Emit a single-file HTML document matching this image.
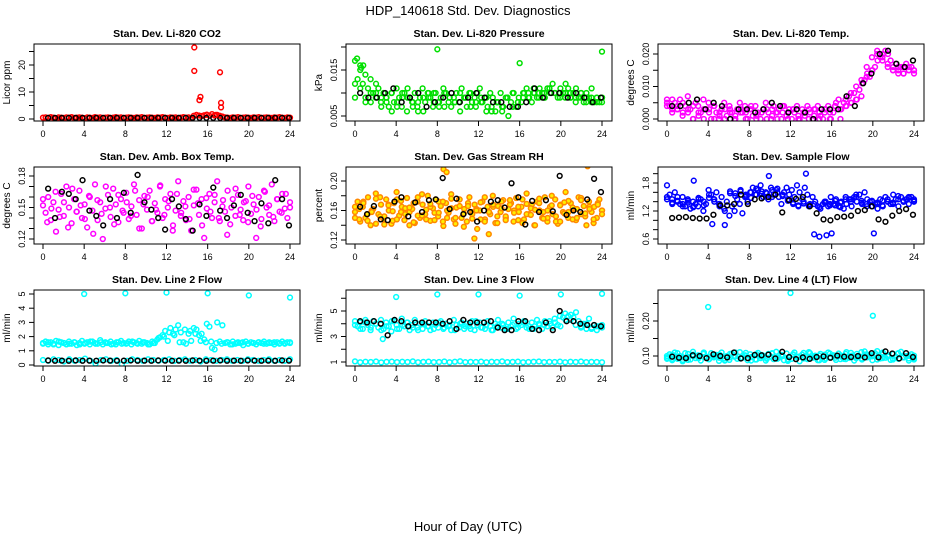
<!DOCTYPE html>
<html><head><meta charset="utf-8">
<style>
html,body{margin:0;padding:0;background:#fff;}
svg{display:block;font-family:"Liberation Sans",Arial,sans-serif;}
</style></head>
<body>
<svg id="chart" width="936" height="540" viewBox="0 0 936 540">
<rect x="0" y="0" width="936" height="540" fill="#fff"/>
<text x="468" y="15" text-anchor="middle" font-size="13">HDP_140618  Std. Dev. Diagnostics</text>
<text x="468" y="531" text-anchor="middle" font-size="13">Hour of Day (UTC)</text>
</svg>
<script>
// ---------- data ----------
const xTicks = [0,4,8,12,16,20,24];

const co2Red = [0.5,0.6,0.4,0.7,0.5,0.3,0.6,0.5,0.4,0.6,0.5,0.7,0.4,0.5,0.6,0.5,0.3,0.6,0.5,0.4,0.7,0.5,0.6,0.4,0.5,0.6,0.4,0.5,0.7,0.5,0.6,0.4,0.5,0.6,0.5,0.4,0.6,0.5,0.7,0.4,0.5,0.6,0.5,0.4,0.6,0.5,0.7,0.5,0.4,0.6,0.5,0.6,0.4,0.5,0.7,0.5,0.6,0.4,1.2,1.5,1.3,1.1,1.4,1.6,1.2,1.8,1.3,1.5,1.2,0.9,0.6,0.5,0.4,0.6,0.5,0.7,0.4,0.5,0.6,0.5,0.4,0.6,0.5,0.7,0.4,0.5,0.6,0.5,0.4,0.6,0.5,0.7,0.5,0.4,0.6,0.5];
const co2OutHours = [14.7,14.7,15.2,15.3,17.2,17.3,17.3,16.8];
const co2OutVals = [26.5,17.8,7.0,8.2,17.3,6.0,4.3,1.5];
const co2Black = [0.4,0.4,0.4,0.4,0.4,0.4,0.4,0.4,0.4,0.4,0.4,0.4,0.4,0.4,0.4,0.4,0.4,0.4,0.4,0.4,0.4,0.4,0.4,0.4,0.4,0.4,0.4,0.4,0.4,0.4,0.4,0.4,0.4,0.4,0.4,0.4];

const presGreen = [0.017,0.013,0.016,0.012,0.014,0.011,0.013,0.010,0.009,0.011,0.008,0.010,0.009,0.007,0.010,0.008,0.011,0.009,0.007,0.010,0.006,0.009,0.008,0.010,0.007,0.009,0.011,0.008,0.010,0.009,0.007,0.010,0.008,0.009,0.011,0.010,0.008,0.007,0.009,0.010,0.008,0.011,0.009,0.007,0.010,0.008,0.009,0.010,0.011,0.008,0.009,0.007,0.010,0.009,0.006,0.008,0.010,0.007,0.009,0.005,0.008,0.010,0.007,0.009,0.008,0.010,0.011,0.009,0.008,0.010,0.009,0.011,0.010,0.009,0.011,0.010,0.012,0.010,0.009,0.011,0.010,0.012,0.011,0.009,0.010,0.011,0.009,0.010,0.008,0.010,0.009,0.011,0.008,0.009,0.008,0.009];
const presGreen2 = [0.012,0.015,0.009,0.008,0.010,0.007,0.009,0.006,0.008,0.010,0.009,0.007,0.008,0.006,0.009,0.010,0.008,0.007,0.009,0.008,0.010,0.009,0.007,0.008,0.009,0.006,0.007,0.008,0.006,0.009,0.007,0.008,0.010,0.009,0.010,0.009,0.010,0.011,0.010,0.009,0.010,0.009,0.008,0.009,0.008,0.009,0.008,0.009];
const presGreen3 = [0.009,0.011,0.008,0.010,0.012,0.009,0.008,0.010,0.007,0.009,0.011,0.008,0.006,0.009,0.010,0.008,0.007,0.010,0.009,0.008,0.006,0.009,0.010,0.007,0.008,0.009,0.006,0.008,0.007,0.009,0.010,0.008,0.009,0.010,0.011,0.010,0.009,0.011,0.010,0.010,0.009,0.010,0.009,0.010,0.009,0.008,0.009,0.008];
const presOutHours = [0.2,8.0,16.0,24.0,0.6,0.8];
const presOutVals = [0.0175,0.0195,0.0165,0.019,0.0155,0.016];
const presBlack = [0.010,0.009,0.009,0.010,0.011,0.008,0.009,0.010,0.007,0.008,0.009,0.010,0.008,0.009,0.010,0.009,0.008,0.008,0.007,0.007,0.008,0.011,0.009,0.010,0.010,0.009,0.010,0.009,0.008,0.009];

const tempMag = [0.006,0.004,0.002,0.005,0.003,0.006,0.001,0.004,0.007,0.003,0.000,0.005,0.004,0.002,0.006,0.003,0.005,0.000,0.004,0.002,0.000,0.003,0.005,0.001,0.004,0.002,0.000,0.003,0.005,0.002,0.004,0.000,0.003,0.001,0.004,0.002,0.000,0.003,0.005,0.002,0.000,0.004,0.002,0.003,0.000,0.004,0.001,0.003,0.000,0.002,0.004,0.000,0.003,0.001,0.004,0.002,0.000,0.003,0.004,0.001,0.000,0.003,0.004,0.000,0.002,0.005,0.006,0.003,0.005,0.004,0.007,0.005,0.008,0.006,0.009,0.011,0.012,0.014,0.013,0.015,0.016,0.018,0.019,0.020,0.021,0.020,0.018,0.016,0.017,0.015,0.016,0.014,0.017,0.015,0.016,0.014];
const tempMag2 = [0.005,0.003,0.004,0.002,0.003,0.000,0.002,0.000,0.003,0.000,0.002,0.000,0.003,0.000,0.002,0.000,0.003,0.000,0.002,0.000,0.003,0.000,0.002,0.000,0.003,0.000,0.002,0.000,0.003,0.000,0.002,0.000,0.004,0.000,0.004,0.005,0.006,0.007,0.013,0.015,0.020,0.019,0.016,0.015,0.014,0.016,0.015,0.015];
const tempMag3 = [0.004,0.006,0.003,0.005,0.002,0.004,0.001,0.003,0.002,0.004,0.001,0.003,0.002,0.001,0.003,0.002,0.004,0.001,0.002,0.003,0.001,0.002,0.004,0.002,0.003,0.001,0.002,0.003,0.001,0.002,0.003,0.002,0.004,0.003,0.006,0.008,0.010,0.012,0.016,0.019,0.021,0.018,0.017,0.015,0.016,0.014,0.016,0.015];
const tempBlack = [0.004,0.004,0.005,0.006,0.003,0.005,0.004,0.000,0.003,0.003,0.002,0.003,0.005,0.004,0.002,0.003,0.002,0.000,0.003,0.003,0.003,0.007,0.004,0.011,0.014,0.020,0.021,0.017,0.016,0.018];

const ambMag = [0.152,0.145,0.160,0.138,0.155,0.127,0.148,0.163,0.142,0.170,0.150,0.135,0.158,0.146,0.166,0.140,0.153,0.131,0.160,0.147,0.172,0.138,0.155,0.120,0.149,0.162,0.141,0.168,0.153,0.136,0.158,0.145,0.164,0.139,0.151,0.172,0.143,0.157,0.130,0.161,0.148,0.166,0.137,0.154,0.145,0.170,0.140,0.158,0.150,0.163,0.133,0.147,0.175,0.142,0.156,0.138,0.160,0.128,0.152,0.167,0.143,0.158,0.121,0.149,0.163,0.140,0.155,0.175,0.137,0.151,0.146,0.166,0.134,0.158,0.142,0.162,0.148,0.138,0.156,0.170,0.144,0.153,0.121,0.160,0.139,0.166,0.150,0.143,0.172,0.137,0.158,0.146,0.163,0.149,0.140,0.155];
const ambMag2 = [0.158,0.136,0.149,0.165,0.141,0.155,0.131,0.168,0.146,0.152,0.139,0.161,0.125,0.157,0.144,0.170,0.150,0.134,0.162,0.147,0.155,0.142,0.166,0.130,0.153,0.160,0.137,0.148,0.171,0.143,0.156,0.128,0.163,0.145,0.151,0.139,0.167,0.154,0.133,0.159,0.146,0.162,0.140,0.157,0.124,0.150,0.168,0.143,0.155,0.136,0.161,0.148,0.132,0.165,0.152,0.141,0.158,0.145,0.163,0.150];
const ambBlack = [0.168,0.140,0.165,0.163,0.158,0.176,0.147,0.142,0.133,0.158,0.140,0.164,0.145,0.181,0.155,0.148,0.140,0.129,0.158,0.151,0.139,0.128,0.153,0.142,0.169,0.147,0.140,0.152,0.162,0.145,0.137,0.154,0.135,0.176,0.158,0.133];

const rhOrange = [0.158,0.172,0.145,0.165,0.150,0.178,0.140,0.162,0.183,0.155,0.168,0.148,0.175,0.160,0.142,0.170,0.185,0.153,0.165,0.147,0.177,0.158,0.162,0.143,0.172,0.150,0.168,0.155,0.180,0.146,0.163,0.175,0.152,0.166,0.139,0.170,0.157,0.182,0.148,0.164,0.175,0.150,0.162,0.145,0.178,0.158,0.168,0.135,0.160,0.172,0.148,0.165,0.155,0.180,0.143,0.166,0.158,0.174,0.150,0.162,0.170,0.145,0.177,0.158,0.165,0.148,0.183,0.155,0.168,0.140,0.172,0.160,0.150,0.178,0.145,0.165,0.155,0.175,0.142,0.168,0.158,0.185,0.150,0.170,0.162,0.147,0.178,0.155,0.166,0.140,0.172,0.158,0.165,0.150,0.175,0.160];
const rhOrange2 = [0.165,0.148,0.172,0.155,0.160,0.142,0.178,0.152,0.168,0.146,0.175,0.158,0.163,0.140,0.170,0.153,0.182,0.148,0.165,0.157,0.172,0.145,0.160,0.176,0.150,0.166,0.138,0.170,0.155,0.162,0.148,0.178,0.158,0.165,0.143,0.172,0.152,0.168,0.160,0.147,0.175,0.155,0.163,0.140,0.170,0.158,0.150,0.180,0.145,0.167,0.156,0.173,0.148,0.162,0.177,0.152,0.165,0.143,0.170,0.160];
const rhOrange3 = [0.150,0.162,0.170,0.146,0.158,0.176,0.152,0.141,0.167,0.159,0.148,0.173,0.155,0.164,0.144,0.178,0.153,0.161,0.169,0.147,0.157,0.172,0.150,0.163,0.142,0.175,0.156,0.166,0.149,0.160,0.171,0.145,0.158,0.168,0.152,0.163,0.147,0.174,0.157,0.165,0.143,0.169,0.154,0.161,0.176,0.149,0.160,0.167,0.152,0.145,0.171,0.158,0.164,0.150,0.174,0.156,0.162,0.148,0.168,0.155];
const rhOutHours = [22.6,11.6,13.0,8.6,8.9];
const rhOutVals = [0.220,0.122,0.128,0.216,0.212];
const rhBlack = [0.165,0.155,0.166,0.148,0.147,0.172,0.178,0.152,0.171,0.158,0.174,0.175,0.204,0.162,0.176,0.155,0.158,0.145,0.160,0.172,0.174,0.164,0.197,0.178,0.141,0.173,0.158,0.174,0.159,0.207,0.154,0.160,0.158,0.175,0.203,0.185];

const flowBlue = [1.75,1.55,1.45,1.60,1.40,1.35,1.50,1.30,1.45,1.25,1.40,1.35,1.30,1.45,1.20,1.35,1.65,1.55,1.45,1.60,1.35,1.50,1.25,1.40,1.10,1.30,1.20,1.45,1.35,1.15,1.50,1.40,1.60,1.70,1.55,1.65,1.75,1.50,1.60,1.45,1.70,1.55,1.65,1.50,1.35,1.60,1.70,1.55,1.65,1.50,1.75,1.60,1.45,1.70,1.55,1.35,1.50,1.40,1.30,1.25,1.35,1.40,1.30,1.50,1.35,1.45,1.30,1.40,1.25,1.35,1.45,1.30,1.50,1.40,1.55,1.35,1.60,1.45,1.40,1.30,1.35,1.25,1.45,1.30,1.50,1.40,1.35,1.55,1.45,1.30,1.50,1.40,1.45,1.35,1.50,1.40];
const flowBlue2 = [1.50,1.35,1.42,1.30,1.38,1.28,1.45,1.32,1.48,1.40,1.30,0.90,1.58,1.52,1.62,1.55,1.48,1.68,1.57,1.50,1.65,1.60,1.52,1.42,1.35,1.30,1.40,1.33,0.70,0.65,1.38,1.32,1.42,1.28,1.50,1.45,1.55,1.38,1.30,1.42,1.35,1.32,1.45,1.38,1.52,1.40,1.48,1.42];
const flowBlue3 = [1.45,1.38,1.50,1.35,1.42,1.30,1.48,1.40,1.55,1.45,1.35,1.20,1.62,1.58,1.65,1.52,1.60,1.55,1.62,1.58,1.50,1.68,1.55,1.45,1.38,1.32,1.36,1.30,1.35,1.28,1.40,1.35,1.32,1.38,1.45,1.40,1.50,1.42,1.35,1.40,1.38,1.42,1.40,1.35,1.45,1.42,1.50,1.45];
const flowOutHours = [9.9,13.5,2.6,16.0,20.1,4.4,15.5];
const flowOutVals = [1.95,2.00,1.85,0.72,0.72,0.92,0.68];
const flowBlack = [1.05,1.06,1.07,1.05,1.04,1.04,1.12,1.32,1.32,1.35,1.55,1.35,1.45,1.47,1.50,1.55,1.17,1.43,1.46,1.50,1.30,1.15,1.02,1.00,1.07,1.08,1.10,1.20,1.22,1.30,1.02,0.97,1.10,1.20,1.24,1.12];

const line2Upper = [1.55,1.65,1.45,1.60,1.50,1.70,1.40,1.60,1.55,1.45,1.65,1.50,1.60,1.40,1.55,1.70,1.50,1.60,1.45,1.65,1.55,1.50,1.75,1.45,1.60,1.55,1.65,1.50,1.45,1.60,1.70,1.55,1.50,1.65,1.45,1.60,1.55,1.70,1.50,1.60,1.55,1.45,1.65,1.55,1.80,1.95,2.10,2.40,1.70,2.60,2.20,2.50,2.80,2.30,1.60,1.50,2.20,1.70,2.60,2.50,2.10,2.20,1.80,2.90,2.70,1.20,1.10,3.00,1.65,2.80,1.55,1.60,1.45,1.65,1.50,1.60,1.55,1.40,1.65,1.50,1.60,1.55,1.45,1.60,1.55,1.65,1.50,1.60,1.55,1.45,1.60,1.55,1.65,1.50,1.60,1.55];
const line2Upper2 = [1.50,1.60,1.45,1.65,1.55,1.50,1.60,1.45,1.55,1.65,1.50,1.60,1.55,1.45,1.60,1.50,1.55,1.65,1.50,1.60,1.45,1.55,1.90,2.00,2.30,2.10,1.60,2.50,2.40,2.20,1.70,1.60,1.65,1.55,1.50,1.60,1.45,1.55,1.60,1.50,1.55,1.60,1.50,1.55,1.60,1.50,1.55,1.60];
const line2Lower = [0.35,0.30,0.40,0.35,0.25,0.40,0.30,0.35,0.45,0.30,0.10,0.35,0.40,0.30,0.35,0.05,0.30,0.40,0.35,0.30,0.40,0.35,0.30,0.35,0.40,0.30,0.35,0.40,0.30,0.35,0.25,0.40,0.35,0.30,0.35,0.40,0.30,0.35,0.30,0.40,0.35,0.30,0.35,0.40,0.30,0.35,0.30,0.40];
const line2OutHours = [4,8,12,16,20,24];
const line2OutVals = [5.0,5.05,5.1,5.05,4.9,4.75];
const line2Black = [0.32,0.30,0.31,0.30,0.32,0.30,0.31,0.30,0.32,0.31,0.30,0.31,0.32,0.30,0.31,0.30,0.32,0.31,0.30,0.31,0.30,0.32,0.31,0.30,0.31,0.32,0.30,0.31,0.30,0.32,0.31,0.30,0.31,0.30,0.32,0.31];

const line3Upper = [4.2,3.8,4.1,3.6,4.3,3.9,3.5,4.2,4.0,3.7,4.3,3.6,4.1,3.8,3.4,4.2,3.9,3.6,4.4,3.8,4.1,3.5,3.9,4.3,3.7,4.0,3.6,4.2,3.8,3.5,4.1,3.9,3.7,4.2,3.6,4.0,3.8,3.5,4.3,3.9,3.7,4.1,3.6,4.0,3.8,4.2,3.5,3.9,4.1,3.7,3.6,4.2,3.8,3.5,4.0,4.3,3.7,3.9,3.6,4.1,3.8,4.4,3.6,4.0,3.9,4.2,3.7,3.6,4.1,3.8,4.3,3.9,3.6,4.2,3.8,4.0,3.7,4.1,3.9,3.8,4.5,4.3,4.6,4.7,4.5,4.9,4.2,3.8,4.0,3.6,4.4,3.7,3.9,3.5,3.8,3.9];
const line3Upper2 = [3.9,3.6,4.1,3.7,4.0,3.5,3.8,4.2,3.6,3.9,4.1,3.7,3.5,4.0,3.8,3.6,4.1,3.7,3.9,3.5,4.0,3.8,3.6,4.2,3.7,3.9,3.5,3.8,4.0,3.6,3.9,3.7,4.1,3.8,3.6,4.0,3.9,4.2,4.4,4.6,4.8,4.3,3.9,3.7,4.0,3.6,3.8,3.7];
const line3Lower = [1.05,0.98,1.02,1.00,1.04,0.97,1.01,1.03,0.99,1.02,1.00,1.05,0.98,1.01,1.03,0.99,1.00,1.04,0.98,1.02,1.06,0.99,1.01,1.00,1.03,0.98,1.02,1.00,1.05,0.99,1.01,1.03,0.98,1.00,1.02,1.04,0.99,1.01,1.00,1.03,0.98,1.02,1.00,1.04,0.99,1.01,1.00,0.98];
const line3OutHours = [4,8,12,16,20,24,2.7];
const line3OutVals = [6.1,6.3,6.3,6.2,6.3,6.35,2.8];
const line3Black = [4.2,4.1,4.2,4.0,3.1,4.3,4.2,3.8,4.1,4.1,4.1,4.1,4.0,4.2,3.6,4.3,4.1,4.1,4.1,4.2,3.7,3.5,3.5,4.2,4.2,3.6,3.5,4.1,3.5,5.0,4.2,4.2,4.0,3.9,3.9,3.8];

const line4Cyan = [0.095,0.105,0.088,0.110,0.092,0.100,0.085,0.108,0.097,0.090,0.112,0.094,0.102,0.087,0.106,0.099,0.091,0.108,0.096,0.103,0.086,0.110,0.093,0.100,0.089,0.107,0.098,0.092,0.111,0.095,0.102,0.088,0.105,0.097,0.090,0.109,0.094,0.101,0.087,0.106,0.098,0.091,0.112,0.095,0.103,0.088,0.107,0.096,0.092,0.110,0.097,0.085,0.104,0.099,0.091,0.108,0.095,0.101,0.088,0.106,0.097,0.093,0.110,0.096,0.102,0.089,0.107,0.098,0.092,0.111,0.095,0.101,0.087,0.106,0.099,0.090,0.113,0.096,0.103,0.088,0.108,0.097,0.093,0.110,0.095,0.102,0.089,0.106,0.098,0.092,0.112,0.096,0.100,0.087,0.105,0.090];
const line4Cyan2 = [0.100,0.092,0.108,0.096,0.089,0.104,0.097,0.110,0.091,0.102,0.095,0.087,0.106,0.099,0.093,0.109,0.097,0.090,0.103,0.095,0.108,0.092,0.100,0.086,0.105,0.098,0.093,0.111,0.096,0.101,0.089,0.107,0.095,0.102,0.091,0.109,0.097,0.093,0.105,0.099,0.114,0.094,0.102,0.090,0.107,0.097,0.093,0.101];
const line4Cyan3 = [0.092,0.103,0.097,0.089,0.106,0.100,0.094,0.108,0.091,0.099,0.104,0.088,0.096,0.110,0.093,0.101,0.087,0.105,0.098,0.092,0.107,0.095,0.100,0.090,0.103,0.097,0.109,0.093,0.099,0.088,0.104,0.096,0.101,0.091,0.106,0.098,0.094,0.111,0.097,0.102,0.090,0.105,0.099,0.093,0.108,0.096,0.101,0.094];
const line4OutHours = [4,12,20];
const line4OutVals = [0.240,0.280,0.215];
const line4Black = [0.098,0.095,0.094,0.102,0.100,0.094,0.105,0.100,0.096,0.110,0.093,0.094,0.103,0.102,0.104,0.093,0.112,0.097,0.091,0.096,0.092,0.097,0.099,0.095,0.101,0.098,0.097,0.100,0.096,0.108,0.096,0.113,0.107,0.093,0.108,0.097];

// ---------- layout ----------
const NS = 'http://www.w3.org/2000/svg';
const svg = document.getElementById('chart');
const colLeft = [34,346,658];
const rowBox = [[44,121],[167,244],[290,366]];
const BOXW = 266;

function mk(tag, attrs, parent){
  const e = document.createElementNS(NS, tag);
  for (const k in attrs) e.setAttribute(k, attrs[k]);
  (parent||svg).appendChild(e);
  return e;
}

const panels = [
 {name:'co2', title:'Stan. Dev. Li-820 CO2', ylab:'Licor ppm', c:0, r:0, v0:0, p0:119, v1:20, p1:65,
  ticks:[0,5,10,15,20,25], labels:[[0,'0'],[10,'10'],[20,'20']],
  series:[[co2Red,'#ff0000',null,0],[co2Black,'#000',null,1]], out:[co2OutHours,co2OutVals,'#ff0000',null]},
 {name:'pressure', title:'Stan. Dev. Li-820 Pressure', ylab:'kPa', c:1, r:0, v0:0.005, p0:116, v1:0.015, p1:70,
  ticks:[0.005,0.010,0.015,0.020], labels:[[0.005,'0.005'],[0.015,'0.015']],
  series:[[presGreen,'#00e000',null,0],[presGreen2,'#00e000',null,0],[presGreen3,'#00e000',null,0],[presBlack,'#000',null,1]], out:[presOutHours,presOutVals,'#00e000',null]},
 {name:'temp', title:'Stan. Dev. Li-820 Temp.', ylab:'degrees C', c:2, r:0, v0:0, p0:119, v1:0.02, p1:54,
  ticks:[0,0.005,0.010,0.015,0.020], labels:[[0,'0.000'],[0.010,'0.010'],[0.020,'0.020']],
  series:[[tempMag,'#ff00ff',null,0],[tempMag2,'#ff00ff',null,0],[tempMag3,'#ff00ff',null,0],[tempBlack,'#000',null,1]], out:null},
 {name:'amb-box-temp', title:'Stan. Dev. Amb. Box Temp.', ylab:'degrees C', c:0, r:1, v0:0.12, p0:239, v1:0.18, p1:176,
  ticks:[0.12,0.13,0.14,0.15,0.16,0.17,0.18], labels:[[0.12,'0.12'],[0.15,'0.15'],[0.18,'0.18']],
  series:[[ambMag,'#ff00ff',null,0],[ambMag2,'#ff00ff',null,0],[ambBlack,'#000',null,1]], out:null},
 {name:'gas-stream-rh', title:'Stan. Dev. Gas Stream RH', ylab:'percent', c:1, r:1, v0:0.12, p0:240, v1:0.20, p1:181,
  ticks:[0.12,0.14,0.16,0.18,0.20], labels:[[0.12,'0.12'],[0.16,'0.16'],[0.20,'0.20']],
  series:[[rhOrange,'#ff8800','#ffee00',0],[rhOrange2,'#ff8800','#ffee00',0],[rhOrange3,'#ff8800','#ffee00',0],[rhBlack,'#000',null,1]], out:[rhOutHours,rhOutVals,'#ff8800','#ffee00']},
 {name:'sample-flow', title:'Stan. Dev. Sample Flow', ylab:'ml/min', c:2, r:1, v0:0.6, p0:239, v1:1.8, p1:183,
  ticks:[0.6,0.8,1.0,1.2,1.4,1.6,1.8,2.0], labels:[[0.6,'0.6'],[1.2,'1.2'],[1.8,'1.8']],
  series:[[flowBlue,'#0000ff',null,0],[flowBlue2,'#0000ff',null,0],[flowBlue3,'#0000ff',null,0],[flowBlack,'#000',null,1]], out:[flowOutHours,flowOutVals,'#0000ff',null]},
 {name:'line2-flow', title:'Stan. Dev. Line 2 Flow', ylab:'ml/min', c:0, r:2, v0:0, p0:365, v1:5, p1:294,
  ticks:[0,1,2,3,4,5], labels:[[0,'0'],[1,'1'],[2,'2'],[3,'3'],[4,'4'],[5,'5']],
  series:[[line2Upper,'#00ffff',null,0],[line2Upper2,'#00ffff',null,0],[line2Lower,'#00ffff',null,0],[line2Black,'#000',null,1]], out:[line2OutHours,line2OutVals,'#00ffff',null]},
 {name:'line3-flow', title:'Stan. Dev. Line 3 Flow', ylab:'ml/min', c:1, r:2, v0:1, p0:362, v1:5, p1:311,
  ticks:[1,2,3,4,5,6], labels:[[1,'1'],[3,'3'],[5,'5']],
  series:[[line3Upper,'#00ffff',null,0],[line3Upper2,'#00ffff',null,0],[line3Lower,'#00ffff',null,0],[line3Black,'#000',null,1]], out:[line3OutHours,line3OutVals,'#00ffff',null]},
 {name:'line4-flow', title:'Stan. Dev. Line 4 (LT) Flow', ylab:'ml/min', c:2, r:2, v0:0.10, p0:356, v1:0.20, p1:321,
  ticks:[0.10,0.15,0.20,0.25], labels:[[0.10,'0.10'],[0.20,'0.20']],
  series:[[line4Cyan,'#00ffff',null,0],[line4Cyan2,'#00ffff',null,0],[line4Cyan3,'#00ffff',null,0],[line4Black,'#000',null,1]], out:[line4OutHours,line4OutVals,'#00ffff',null]}
];

panels.forEach(p => {
  const L = colLeft[p.c], T = rowBox[p.r][0], B = rowBox[p.r][1];
  const xs = h => L + 9 + h * (BOXW - 19) / 24;
  const ys = v => p.p0 + (v - p.v0) * (p.p1 - p.p0) / (p.v1 - p.v0);
  const g = mk('g', {});
  
  
  const clip = mk('clipPath', {id:'clip-' + p.name}, g);
  mk('rect', {x:L, y:T, width:BOXW, height:B - T}, clip);

  const title = mk('text', {x:L + BOXW/2, y:T - 7, 'text-anchor':'middle', 'font-size':'10.5', 'font-weight':'bold'}, g);
  title.textContent = p.title;
  
  

  const yl = mk('text', {x:0, y:0, 'text-anchor':'middle', 'font-size':'10', transform:'translate(' + (L - 24) + ',' + ((T + B)/2) + ') rotate(-90)'}, g);
  yl.textContent = p.ylab;
  
  

  const pts = mk('g', {'clip-path':'url(#clip-' + p.name + ')'}, g);
  
  
  p.series.forEach(s => {
    const vals = s[0], stroke = s[1], fill = s[2], isBlack = s[3];
    const n = vals.length;
    vals.forEach((v, i) => {
      const h = isBlack ? 0.5 + i * 23.4 / (n - 1) : i * 24 / (n - 1);
      const c = mk('circle', {cx:xs(h), cy:ys(v), r:2.4, fill:fill || 'none', stroke:stroke, 'stroke-width':1.5}, pts);
      
      
    });
  });
  if (p.out) {
    p.out[0].forEach((h, i) => {
      const c = mk('circle', {cx:xs(h), cy:ys(p.out[1][i]), r:2.4, fill:p.out[3] || 'none', stroke:p.out[2], 'stroke-width':1.5}, pts);
      
      
    });
  }

  const box = mk('rect', {x:L, y:T, width:BOXW, height:B - T, fill:'none', stroke:'#000', 'stroke-width':1}, g);
  
  

  xTicks.forEach(t => {
    mk('line', {x1:xs(t), x2:xs(t), y1:B, y2:B + 5, stroke:'#000'}, g);
    const tx = mk('text', {x:xs(t), y:B + 16, 'text-anchor':'middle', 'font-size':'9'}, g);
    tx.textContent = t;
    
    
  });
  p.ticks.forEach(t => {
    const y = ys(t);
    if (y < T - 1 || y > B + 1) return;
    mk('line', {x1:L - 5, x2:L, y1:y, y2:y, stroke:'#000'}, g);
  });
  p.labels.forEach(lb => {
    const y = ys(lb[0]);
    const ty = mk('text', {x:0, y:0, 'text-anchor':'middle', 'font-size':'9', transform:'translate(' + (L - 9) + ',' + y + ') rotate(-90)'}, g);
    ty.textContent = lb[1];
    
    
  });
});
</script>
</body></html>
